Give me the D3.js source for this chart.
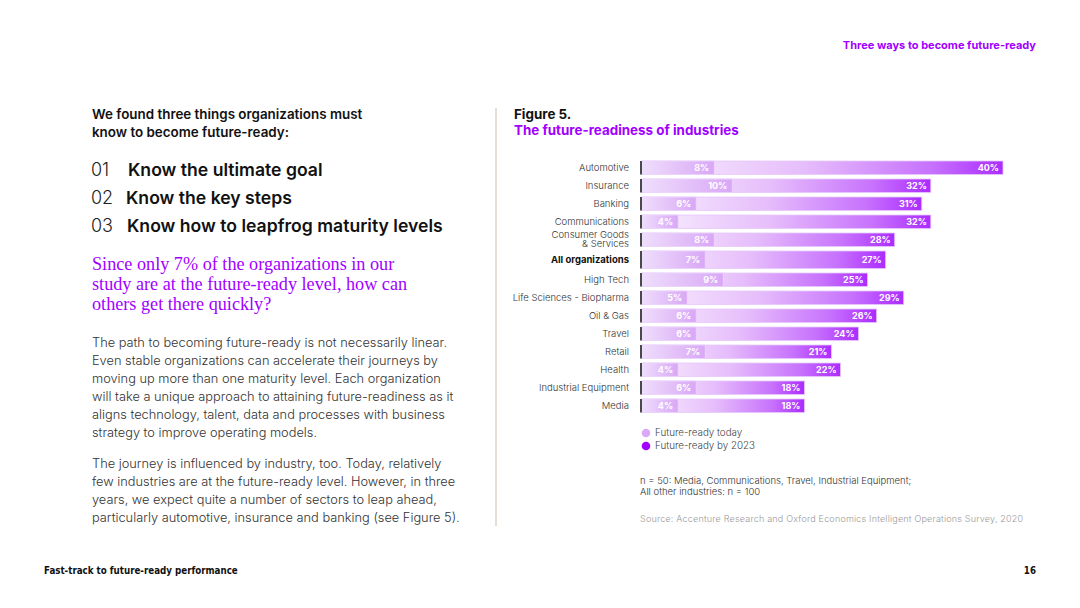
<!DOCTYPE html>
<html>
<head>
<meta charset="utf-8">
<script src="https://cdn.jsdelivr.net/npm/d3@7"></script>
<style>
  body { margin: 0; background: #fff; }
  svg { display: block; font-family: Inter, "Noto Sans", sans-serif; }
</style>
</head>
<body>
<svg id="page" width="1080" height="608"></svg>
<script>
const industries = [
  'Automotive', 'Insurance', 'Banking', 'Communications',
  'Consumer Goods & Services', 'All organizations', 'High Tech',
  'Life Sciences - Biopharma', 'Oil & Gas', 'Travel', 'Retail',
  'Health', 'Industrial Equipment', 'Media'
];
const readyToday = [8, 10, 6, 4, 8, 7, 9, 5, 6, 6, 7, 4, 6, 4];
const readyBy2023 = [40, 32, 31, 32, 28, 27, 25, 29, 26, 24, 21, 22, 18, 18];
const seriesNames = ['Future-ready today', 'Future-ready by 2023'];
const highlight = 'All organizations';

const PURPLE = '#a100ff';
const svg = d3.select('#page');

// ---- page furniture ----
svg.append('text').attr('x', 1036).attr('y', 49).attr('text-anchor', 'end')
  .attr('font-size', 11).attr('font-weight', 700).attr('fill', PURPLE)
  .text('Three ways to become future-ready');

svg.append('text').attr('x', 44).attr('y', 574)
  .attr('font-family', '"DejaVu Sans Condensed", "Liberation Sans Narrow", sans-serif')
  .attr('font-size', 9.7).attr('font-weight', 700).attr('fill', '#111')
  .text('Fast-track to future-ready performance');
svg.append('text').attr('x', 1036).attr('y', 574).attr('text-anchor', 'end')
  .attr('font-family', '"DejaVu Sans Condensed", sans-serif')
  .attr('font-size', 9.7).attr('font-weight', 700).attr('fill', '#111')
  .text('16');

svg.append('line').attr('x1', 496).attr('x2', 496).attr('y1', 108).attr('y2', 526)
  .attr('stroke', '#e4ded6').attr('stroke-width', 2);

// ---- left column ----
const left = svg.append('g');
left.selectAll('text.intro')
  .data(['We found three things organizations must', 'know to become future-ready:'])
  .join('text').attr('class', 'intro')
  .attr('x', 92).attr('y', (d, i) => 119 + i * 18)
  .attr('font-size', 13.4).attr('font-weight', 600).attr('fill', '#111')
  .text(d => d);

const steps = [
  ['01', 'Know the ultimate goal', 128],
  ['02', 'Know the key steps', 126],
  ['03', 'Know how to leapfrog maturity levels', 127]
];
steps.forEach((s, i) => {
  const yy = 176 + i * 28;
  left.append('text').attr('x', 91).attr('y', yy).attr('font-size', 18)
    .attr('font-weight', 300).attr('fill', '#222').text(s[0]);
  left.append('text').attr('x', s[2]).attr('y', yy).attr('font-size', 17.6)
    .attr('font-weight', 600).attr('fill', '#111').text(s[1]);
});

left.selectAll('text.quote')
  .data(['Since only 7% of the organizations in our',
         'study are at the future-ready level, how can',
         'others get there quickly?'])
  .join('text').attr('class', 'quote')
  .attr('x', 92).attr('y', (d, i) => 270 + i * 20)
  .attr('font-family', '"Liberation Serif", "DejaVu Serif", serif')
  .attr('font-size', 18.2).attr('fill', PURPLE)
  .text(d => d);

const para1 = [
  'The path to becoming future-ready is not necessarily linear.',
  'Even stable organizations can accelerate their journeys by',
  'moving up more than one maturity level. Each organization',
  'will take a unique approach to attaining future-readiness as it',
  'aligns technology, talent, data and processes with business',
  'strategy to improve operating models.'
];
const para2 = [
  'The journey is influenced by industry, too. Today, relatively',
  'few industries are at the future-ready level. However, in three',
  'years, we expect quite a number of sectors to leap ahead,',
  'particularly automotive, insurance and banking (see Figure 5).'
];
left.selectAll('text.p1').data(para1).join('text').attr('class', 'p1')
  .attr('x', 92).attr('y', (d, i) => 347 + i * 17.9)
  .attr('font-size', 12.8).attr('font-weight', 300).attr('fill', '#333').text(d => d);
left.selectAll('text.p2').data(para2).join('text').attr('class', 'p2')
  .attr('x', 92).attr('y', (d, i) => 468 + i * 17.9)
  .attr('font-size', 12.8).attr('font-weight', 300).attr('fill', '#333').text(d => d);

// ---- figure ----
svg.append('text').attr('x', 514).attr('y', 119).attr('font-size', 13.4)
  .attr('font-weight', 700).attr('fill', '#111').text('Figure 5.');
svg.append('text').attr('x', 514).attr('y', 135).attr('font-size', 13.4)
  .attr('font-weight', 700).attr('fill', PURPLE).text('The future-readiness of industries');

const x = d3.scaleLinear().domain([0, 40]).range([642, 1003]);
const y = d3.scaleBand().domain(industries)
  .range([158.75, 410.75]).paddingInner(0.25).paddingOuter(0.125);
const hiIdx = industries.indexOf(highlight);
const extra = 4;
const rowTop = (d, i) => y(d) + (i > hiIdx ? extra : 0);
const bh = (d) => y.bandwidth() + (d === highlight ? extra : 0);

const defs = svg.append('defs');
const g2023 = defs.append('linearGradient').attr('id', 'g2023');
g2023.append('stop').attr('offset', '0%').attr('stop-color', '#f8f0fe');
g2023.append('stop').attr('offset', '45%').attr('stop-color', '#e6bdfb');
g2023.append('stop').attr('offset', '80%').attr('stop-color', '#c772fd');
g2023.append('stop').attr('offset', '100%').attr('stop-color', '#ac2cff');
const gToday = defs.append('linearGradient').attr('id', 'gToday');
gToday.append('stop').attr('offset', '0%').attr('stop-color', '#efdefc');
gToday.append('stop').attr('offset', '100%').attr('stop-color', '#d9a7f6');

const rows = svg.append('g').selectAll('g').data(industries).join('g')
  .attr('transform', (d, i) => `translate(0,${rowTop(d, i)})`);

rows.append('rect').attr('x', x(0)).attr('y', 0)
  .attr('width', (d, i) => x(readyBy2023[i]) - x(0)).attr('height', d => bh(d))
  .attr('fill', 'url(#g2023)').attr('stroke', '#e7c8fb').attr('stroke-width', 0.8);

rows.append('rect').attr('x', x(0)).attr('y', 0)
  .attr('width', (d, i) => x(readyToday[i]) - x(0)).attr('height', d => bh(d))
  .attr('fill', 'url(#gToday)').attr('stroke', '#ecd6fc').attr('stroke-width', 0.8);

rows.append('rect').attr('x', x(0) - 2).attr('y', 0).attr('width', 2)
  .attr('height', d => bh(d)).attr('fill', '#4a4a4a');

rows.append('text').attr('x', (d, i) => x(readyBy2023[i]) - 4)
  .attr('y', d => bh(d) / 2).attr('dy', '0.35em').attr('text-anchor', 'end')
  .attr('font-size', 9).attr('font-weight', 700).attr('fill', '#fff')
  .text((d, i) => readyBy2023[i] + '%');

rows.append('text').attr('x', (d, i) => x(readyToday[i]) - 5)
  .attr('y', d => bh(d) / 2).attr('dy', '0.35em').attr('text-anchor', 'end')
  .attr('font-size', 9).attr('font-weight', 700).attr('fill', '#fff')
  .text((d, i) => readyToday[i] + '%');

const cat = rows.append('text').attr('x', 629).attr('y', d => bh(d) / 2)
  .attr('text-anchor', 'end').attr('font-size', 9.5)
  .attr('font-weight', d => d === highlight ? 700 : 300)
  .attr('fill', d => d === highlight ? '#111' : '#333');
cat.each(function (d) {
  const t = d3.select(this);
  if (d === 'Consumer Goods & Services') {
    t.append('tspan').attr('x', 629).attr('dy', '-0.2em').text('Consumer Goods');
    t.append('tspan').attr('x', 629).attr('dy', '1.0em').text('& Services');
  } else {
    t.attr('dy', '0.35em').text(d);
  }
});

// legend
const legend = svg.append('g').selectAll('g').data(seriesNames).join('g')
  .attr('transform', (d, i) => `translate(646,${433 + i * 13})`);
legend.append('circle').attr('r', 4.3).attr('fill', (d, i) => i === 0 ? '#dba9f7' : PURPLE);
legend.append('text').attr('x', 9).attr('dy', '0.35em').attr('font-size', 9.8)
  .attr('font-weight', 300).attr('fill', '#444').text(d => d);

// notes
svg.selectAll('text.note')
  .data(['n = 50: Media, Communications, Travel, Industrial Equipment;',
         'All other industries: n = 100'])
  .join('text').attr('class', 'note')
  .attr('x', 640).attr('y', (d, i) => 484 + i * 11)
  .attr('font-size', 9.5).attr('font-weight', 300).attr('fill', '#333').text(d => d);
svg.append('text').attr('x', 640).attr('y', 522).attr('font-size', 9)
  .attr('font-weight', 300).attr('fill', '#999').attr('letter-spacing', 0.2)
  .text('Source: Accenture Research and Oxford Economics Intelligent Operations Survey, 2020');
</script>
</body>
</html>
